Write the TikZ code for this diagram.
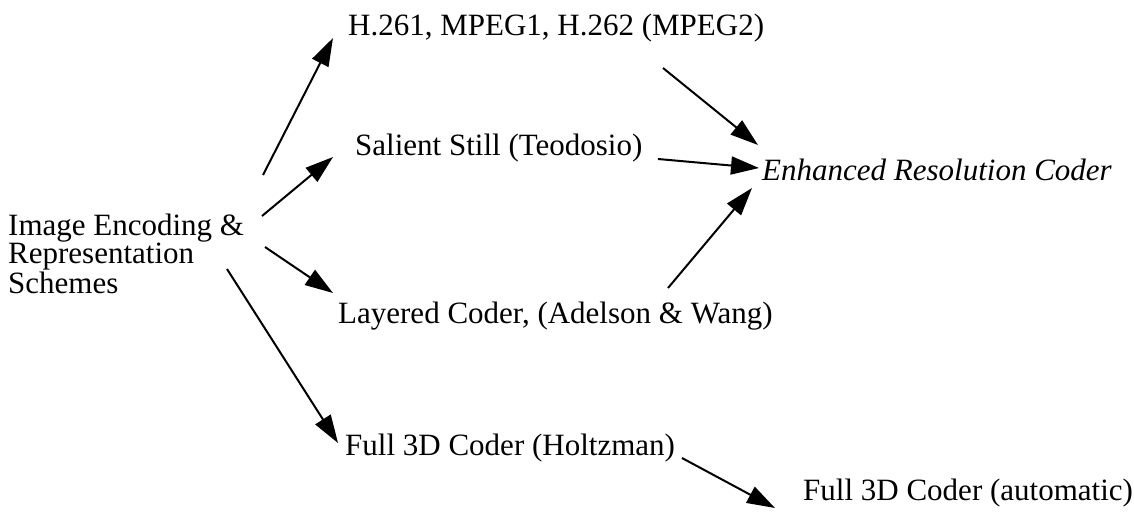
\documentclass[tikz,border=0pt]{standalone}
\usepackage{fontspec}
\setmainfont{Liberation Serif}
\usetikzlibrary{arrows.meta}
\tikzset{
  lbl/.style={inner sep=0pt, anchor=base west, font=\fontsize{31}{27.5}\selectfont},
  arr/.style={line width=2pt, -{Triangle[length=28pt,width=18pt]}}
}
\begin{document}
\begin{tikzpicture}[x=1pt,y=-1pt]
  \useasboundingbox (0,0) rectangle (1134,531);
  % items
  \node[lbl] (img) at (8,235) {\begin{tabular}[t]{@{}l@{}}Image Encoding \&\\Representation\\Schemes\end{tabular}};
  \node[lbl] (h261) at (348,35) {H.261, MPEG1, H.262 (MPEG2)};
  \node[lbl] (sal) at (355,155) {Salient Still (Teodosio)};
  \node[lbl] (lay) at (338,323) {Layered Coder, (Adelson \& Wang)};
  \node[lbl] (f3h) at (345,455) {Full 3D Coder (Holtzman)};
  \node[lbl] (f3a) at (803,500) {Full 3D Coder (automatic)};
  \node[lbl] (enh) at (762,180) {\itshape Enhanced Resolution Coder};
  % connectors
  \draw[arr] ([shift={(255,-60)}]img.base west) -- ([shift={(-15,3)}]h261.base west);
  \draw[arr] ([shift={(254,-19)}]img.base west) -- ([shift={(-22,2)}]sal.base west);
  \draw[arr] ([shift={(257,12)}]img.base west) -- ([shift={(-5,-30)}]lay.base west);
  \draw[arr] ([shift={(219,34)}]img.base west) -- ([shift={(-7,-12)}]f3h.base west);
  \draw[arr] ([shift={(315,33)}]h261.base west) -- ([shift={(-4,-35)}]enh.base west);
  \draw[arr] ([shift={(303,4)}]sal.base west) -- ([shift={(-3,-12)}]enh.base west);
  \draw[arr] ([shift={(330,-35)}]lay.base west) -- ([shift={(-10,8)}]enh.base west);
  \draw[arr] ([shift={(337,3)}]f3h.base west) -- ([shift={(-28,8)}]f3a.base west);
\end{tikzpicture}
\end{document}
